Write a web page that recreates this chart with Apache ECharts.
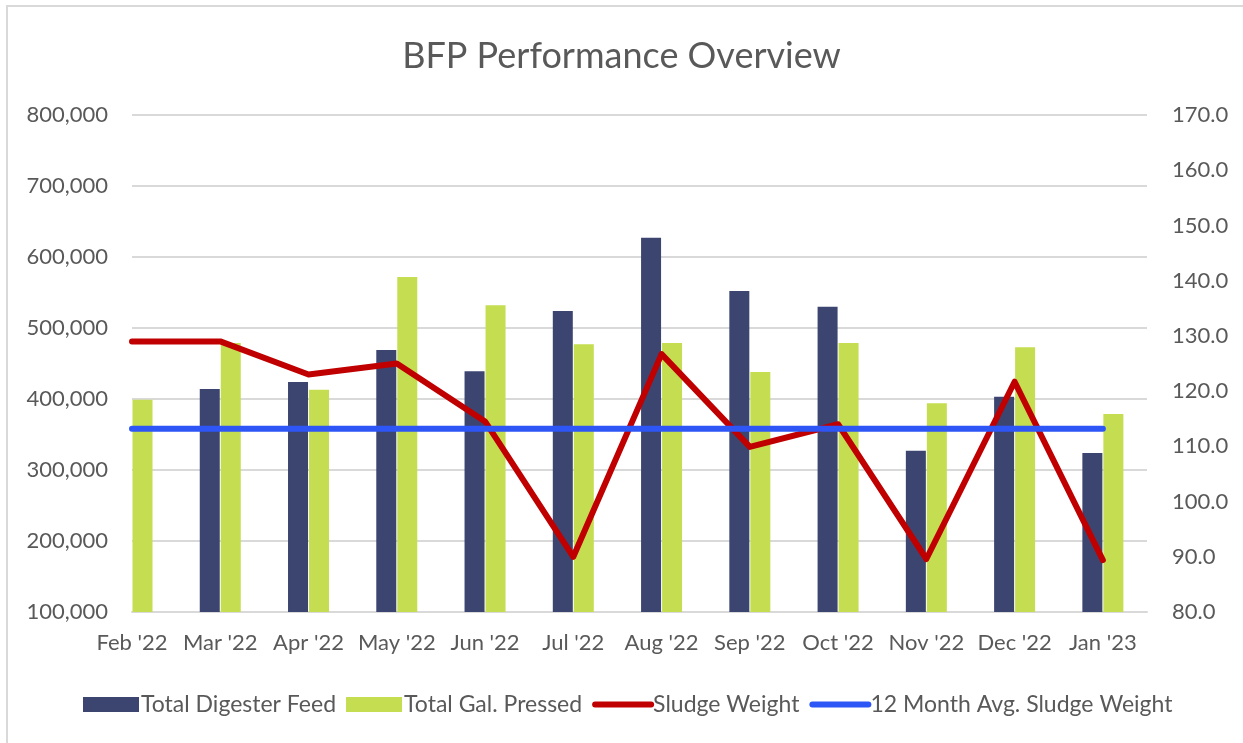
<!DOCTYPE html>
<html>
<head>
<meta charset="utf-8">
<script src="https://cdn.jsdelivr.net/npm/echarts@6/dist/echarts.min.js"></script>
<style>
  html, body { margin: 0; padding: 0; background: #fff; }
  #chart { width: 1243px; height: 743px; }
</style>
</head>
<body>
<div id="chart"></div>
<script>
// data
var months = ["Feb '22", "Mar '22", "Apr '22", "May '22", "Jun '22", "Jul '22", "Aug '22", "Sep '22", "Oct '22", "Nov '22", "Dec '22", "Jan '23"];
var digesterFeed = [null, 414000, 424000, 469000, 439000, 524000, 627000, 552000, 530000, 327000, 403000, 324000];
var galPressed = [399000, 479000, 413000, 572000, 532000, 477000, 479000, 438000, 479000, 394000, 473000, 379000];
var sludgeWeight = [129.0, 129.0, 123.0, 125.0, 114.5, 90.0, 126.7, 109.9, 114.0, 89.6, 121.7, 89.4];
var avgSludge = [113.2, 113.2, 113.2, 113.2, 113.2, 113.2, 113.2, 113.2, 113.2, 113.2, 113.2, 113.2];

var FONT = 'Lato';
var GREY = '#595959';

function pairs(arr) {
    var out = [];
    for (var i = 0; i < arr.length; i++) {
        out.push([i, arr[i] == null ? '-' : arr[i]]);
    }
    return out;
}

var chart = echarts.init(document.getElementById('chart'), null, { renderer: 'canvas' });

chart.setOption({
    backgroundColor: '#fff',
    animation: false,
    textStyle: { fontFamily: FONT },
    graphic: [{
        type: 'rect',
        shape: { x: 7, y: 6, width: 1300, height: 800 },
        style: { fill: 'none', stroke: '#d9d9d9', lineWidth: 2 },
        silent: true
    }],
    title: {
        text: 'BFP Performance Overview',
        left: 'center',
        top: 33,
        textStyle: { fontFamily: FONT, fontSize: 36, fontWeight: 'normal', color: GREY }
    },
    legend: {
        left: 78,
        top: 688,
        itemGap: 10,
        itemWidth: 56,
        itemHeight: 15,
        textStyle: { fontFamily: FONT, fontSize: 23, color: GREY, padding: [0, 0, 0, -3] },
        data: [
            { name: 'Total Digester Feed', icon: 'rect' },
            { name: 'Total Gal. Pressed', icon: 'rect' },
            { name: 'Sludge Weight', itemStyle: { opacity: 0 }, lineStyle: { width: 6, cap: 'round' } },
            { name: '12 Month Avg. Sludge Weight', itemStyle: { opacity: 0 }, lineStyle: { width: 6, cap: 'round' } }
        ]
    },
    grid: { left: 132, right: 96, top: 115, bottom: 131 },
    xAxis: {
        type: 'value',
        min: 0,
        max: 11.5,
        interval: 1,
        axisLine: { show: true, lineStyle: { color: '#d9d9d9', width: 2 } },
        axisTick: { show: false },
        splitLine: { show: false },
        axisLabel: {
            margin: 20,
            fontFamily: FONT,
            fontSize: 22,
            color: GREY,
            showMaxLabel: false,
            formatter: function (v) {
                return (v % 1 === 0 && months[v] != null) ? months[v] : '';
            }
        }
    },
    yAxis: [{
        type: 'value',
        min: 100000,
        max: 800000,
        interval: 100000,
        axisLine: { show: false },
        axisTick: { show: false },
        splitLine: { lineStyle: { color: '#d9d9d9', width: 2 } },
        axisLabel: {
            margin: 24,
            fontFamily: FONT,
            fontSize: 22,
            color: GREY,
            formatter: function (v) { return v.toLocaleString('en-US'); }
        }
    }, {
        type: 'value',
        min: 80,
        max: 170,
        interval: 10,
        axisLine: { show: false },
        axisTick: { show: false },
        splitLine: { show: false },
        axisLabel: {
            margin: 25,
            fontFamily: FONT,
            fontSize: 22,
            color: GREY,
            formatter: function (v) { return v.toFixed(1); }
        }
    }],
    series: [{
        name: 'Total Digester Feed',
        type: 'bar',
        yAxisIndex: 0,
        barWidth: 20,
        barGap: '5%',
        itemStyle: { color: '#3c4570' },
        data: pairs(digesterFeed)
    }, {
        name: 'Total Gal. Pressed',
        type: 'bar',
        yAxisIndex: 0,
        barWidth: 20,
        barGap: '5%',
        itemStyle: { color: '#c5de51' },
        data: pairs(galPressed)
    }, {
        name: 'Sludge Weight',
        type: 'line',
        yAxisIndex: 1,
        symbol: 'none',
        lineStyle: { color: '#c00000', width: 6, join: 'round', cap: 'round' },
        itemStyle: { color: '#c00000' },
        data: pairs(sludgeWeight)
    }, {
        name: '12 Month Avg. Sludge Weight',
        type: 'line',
        yAxisIndex: 1,
        symbol: 'none',
        lineStyle: { color: '#2e55f5', width: 6, cap: 'round' },
        itemStyle: { color: '#2e55f5' },
        data: pairs(avgSludge)
    }]
});
</script>
</body>
</html>
